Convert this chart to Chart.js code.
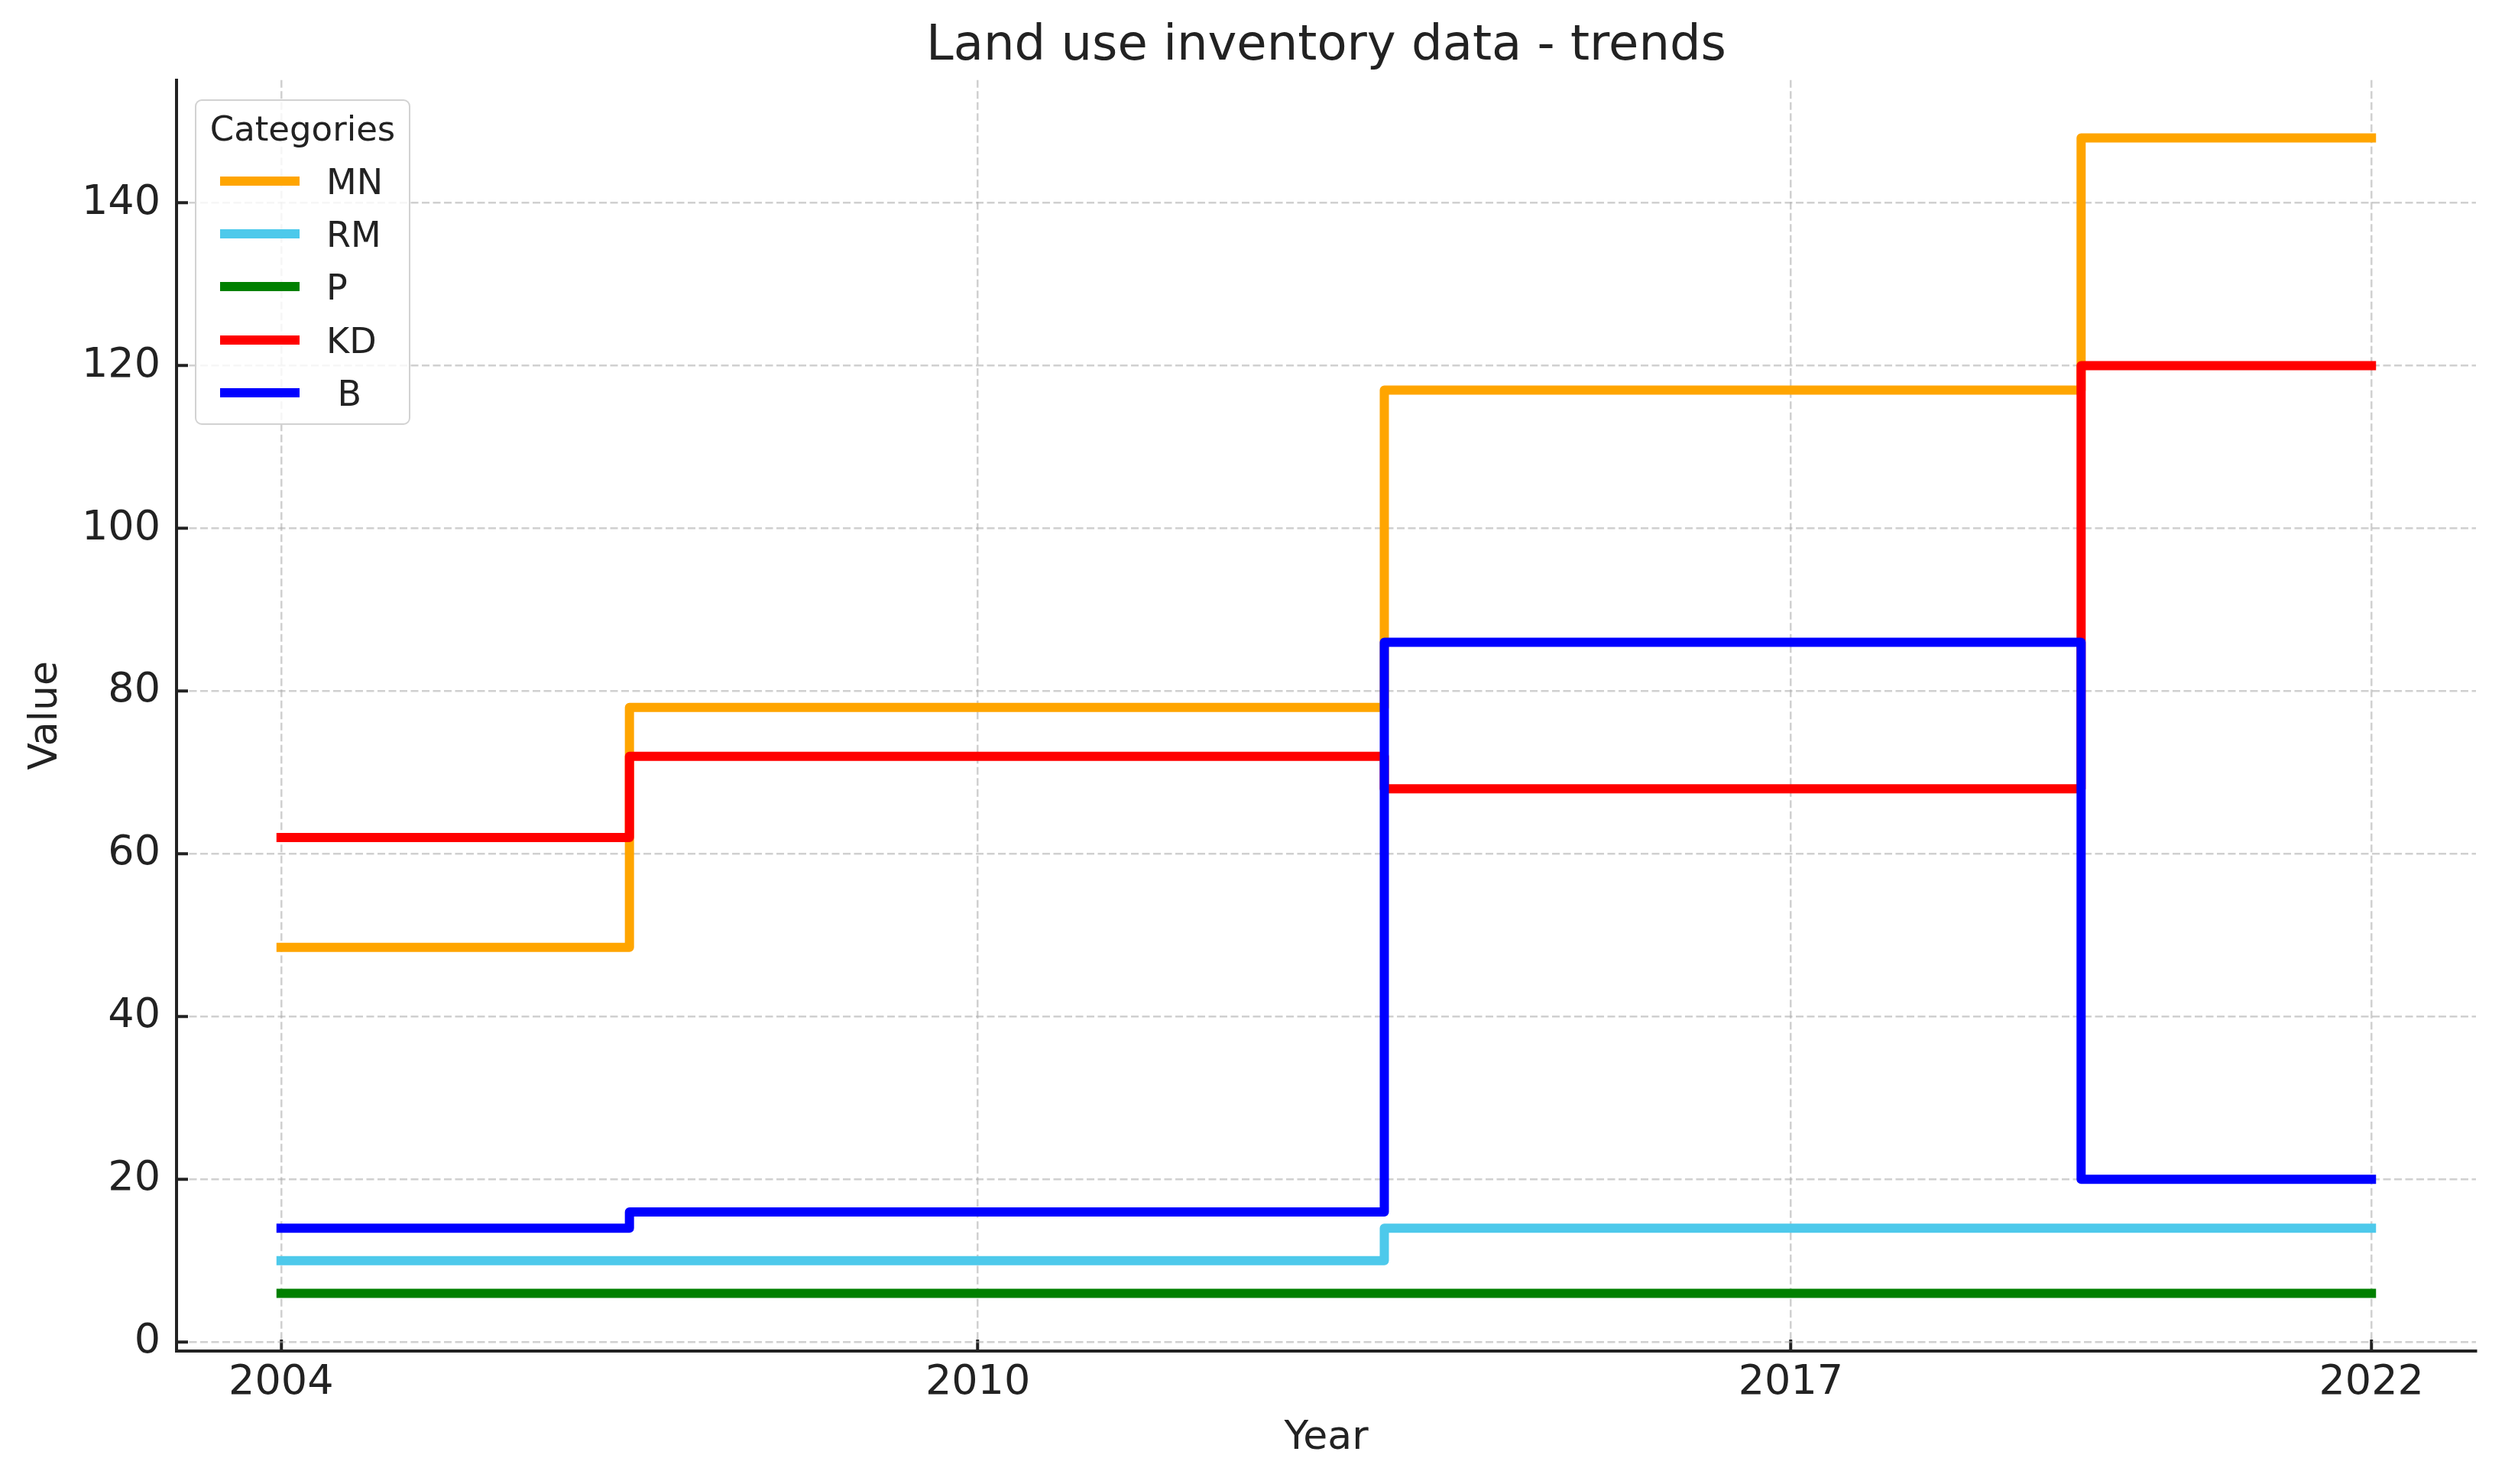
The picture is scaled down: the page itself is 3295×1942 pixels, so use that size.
<!DOCTYPE html>
<html>
<head>
<meta charset="utf-8">
<script src="https://cdn.jsdelivr.net/npm/chart.js@4.4.1/dist/chart.umd.min.js"></script>
<style>
html, body { margin: 0; padding: 0; background: #ffffff; }
#wrap { position: relative; width: 3295px; height: 1942px; }
canvas { display: block; }
#legend {
  position: absolute; left: 255px; top: 130px; width: 282px; height: 426px;
  box-sizing: border-box; border: 2px solid #d2d2d2; border-radius: 9px;
  background: rgba(255,255,255,0.8); font-family: "DejaVu Sans"; color: #222;
}
#legend .ttl { position: absolute; left: 0; right: 0; text-align: center; font-size: 45px; line-height: 54px; white-space: pre; }
#legend .sw { position: absolute; left: 31px; width: 104px; height: 12px; }
#legend .lb { position: absolute; left: 170px; font-size: 46px; line-height: 54px; white-space: pre; }
</style>
</head>
<body>
<div id="wrap">
  <canvas id="c" width="3295" height="1942"></canvas>
  <div id="legend"></div>
</div>
<script>
// ---- data ----
const years = [2004, 2010, 2017, 2022];
const seriesNames = ['MN', 'RM', 'P', 'KD', ' B'];
const seriesColors = ['#FFA500', '#4DC9EB', '#008000', '#FF0000', '#0000FF'];
const mnValues = [48.5, 78, 117, 148];
const rmValues = [10, 10, 14, 14];
const pValues  = [6, 6, 6, 6];
const kdValues = [62, 72, 68, 120];
const bValues  = [14, 16, 86, 20];
const xTickValues = [2004, 2010, 2017, 2022];
const yTickValues = [0, 20, 40, 60, 80, 100, 120, 140];
const chartTitle = 'Land use inventory data - trends';
const xTitle = 'Year';
const yTitle = 'Value';
const legendTitle = 'Categories';

const allSeries = [mnValues, rmValues, pValues, kdValues, bValues];

Chart.defaults.font.family = 'DejaVu Sans';
Chart.defaults.color = '#222';

const datasets = allSeries.map((vals, i) => ({
  label: seriesNames[i],
  data: years.map((yr, j) => ({ x: yr, y: vals[j] })),
  borderColor: seriesColors[i],
  backgroundColor: seriesColors[i],
  borderWidth: 12,
  stepped: 'middle',
  pointRadius: 0,
  pointHoverRadius: 0,
  fill: false,
  borderCapStyle: 'square',
  borderJoinStyle: 'round',
  order: allSeries.length - i
}));

const gridColor = 'rgba(170,170,170,0.55)';

const chart = new Chart(document.getElementById('c'), {
  type: 'line',
  data: { datasets },
  options: {
    responsive: false,
    devicePixelRatio: 1,
    animation: false,
    events: [],
    layout: { padding: { left: 0, right: 55, top: 0, bottom: 0 } },
    plugins: {
      legend: { display: false },
      tooltip: { enabled: false },
      title: {
        display: true,
        text: chartTitle,
        fullSize: false,
        color: '#222',
        font: { size: 64, weight: 'normal' },
        padding: { top: 23, bottom: 5 }
      }
    },
    scales: {
      x: {
        type: 'linear',
        min: 2003.1,
        max: 2022.9,
        afterBuildTicks: (s) => { s.ticks = xTickValues.map(v => ({ value: v })); },
        afterFit: (s) => { s.height = 174; },
        ticks: { font: { size: 54 }, color: '#222', padding: 25, callback: (v) => String(v), maxRotation: 0, autoSkip: false },
        grid: { color: gridColor, lineWidth: 2.5, tickLength: -15, tickColor: '#222', tickWidth: 4, tickBorderDash: [] },
        border: { display: true, color: '#222', width: 4, dash: [10, 4.5] },
        title: { display: true, text: xTitle, font: { size: 52 }, color: '#222', padding: { top: 0, bottom: 28 } }
      },
      y: {
        type: 'linear',
        min: -1.1,
        max: 155.1,
        afterBuildTicks: (s) => { s.ticks = yTickValues.map(v => ({ value: v })); },
        afterFit: (s) => { s.width = 231; },
        ticks: { font: { size: 54 }, color: '#222', padding: 36, callback: (v) => String(v) },
        grid: { color: gridColor, lineWidth: 2.5, tickLength: -15, tickColor: '#222', tickWidth: 4, tickBorderDash: [] },
        border: { display: true, color: '#222', width: 4, dash: [10, 4.5] },
        title: { display: true, text: yTitle, font: { size: 52 }, color: '#222', padding: { top: 29, bottom: 0 } }
      }
    }
  }
});

// ---- HTML legend built from the chart's datasets ----
(function buildLegend() {
  const el = document.getElementById('legend');
  const t = document.createElement('div');
  t.className = 'ttl';
  t.textContent = legendTitle;
  t.style.top = '10px';
  el.appendChild(t);
  chart.data.datasets.forEach((ds, i) => {
    const centerY = 105 + i * 69.2;
    const sw = document.createElement('div');
    sw.className = 'sw';
    sw.style.top = (centerY - 6) + 'px';
    sw.style.background = ds.borderColor;
    el.appendChild(sw);
    const lb = document.createElement('div');
    lb.className = 'lb';
    lb.textContent = ds.label;
    lb.style.top = (centerY - 27 + 1) + 'px';
    el.appendChild(lb);
  });
})();
</script>
</body>
</html>
